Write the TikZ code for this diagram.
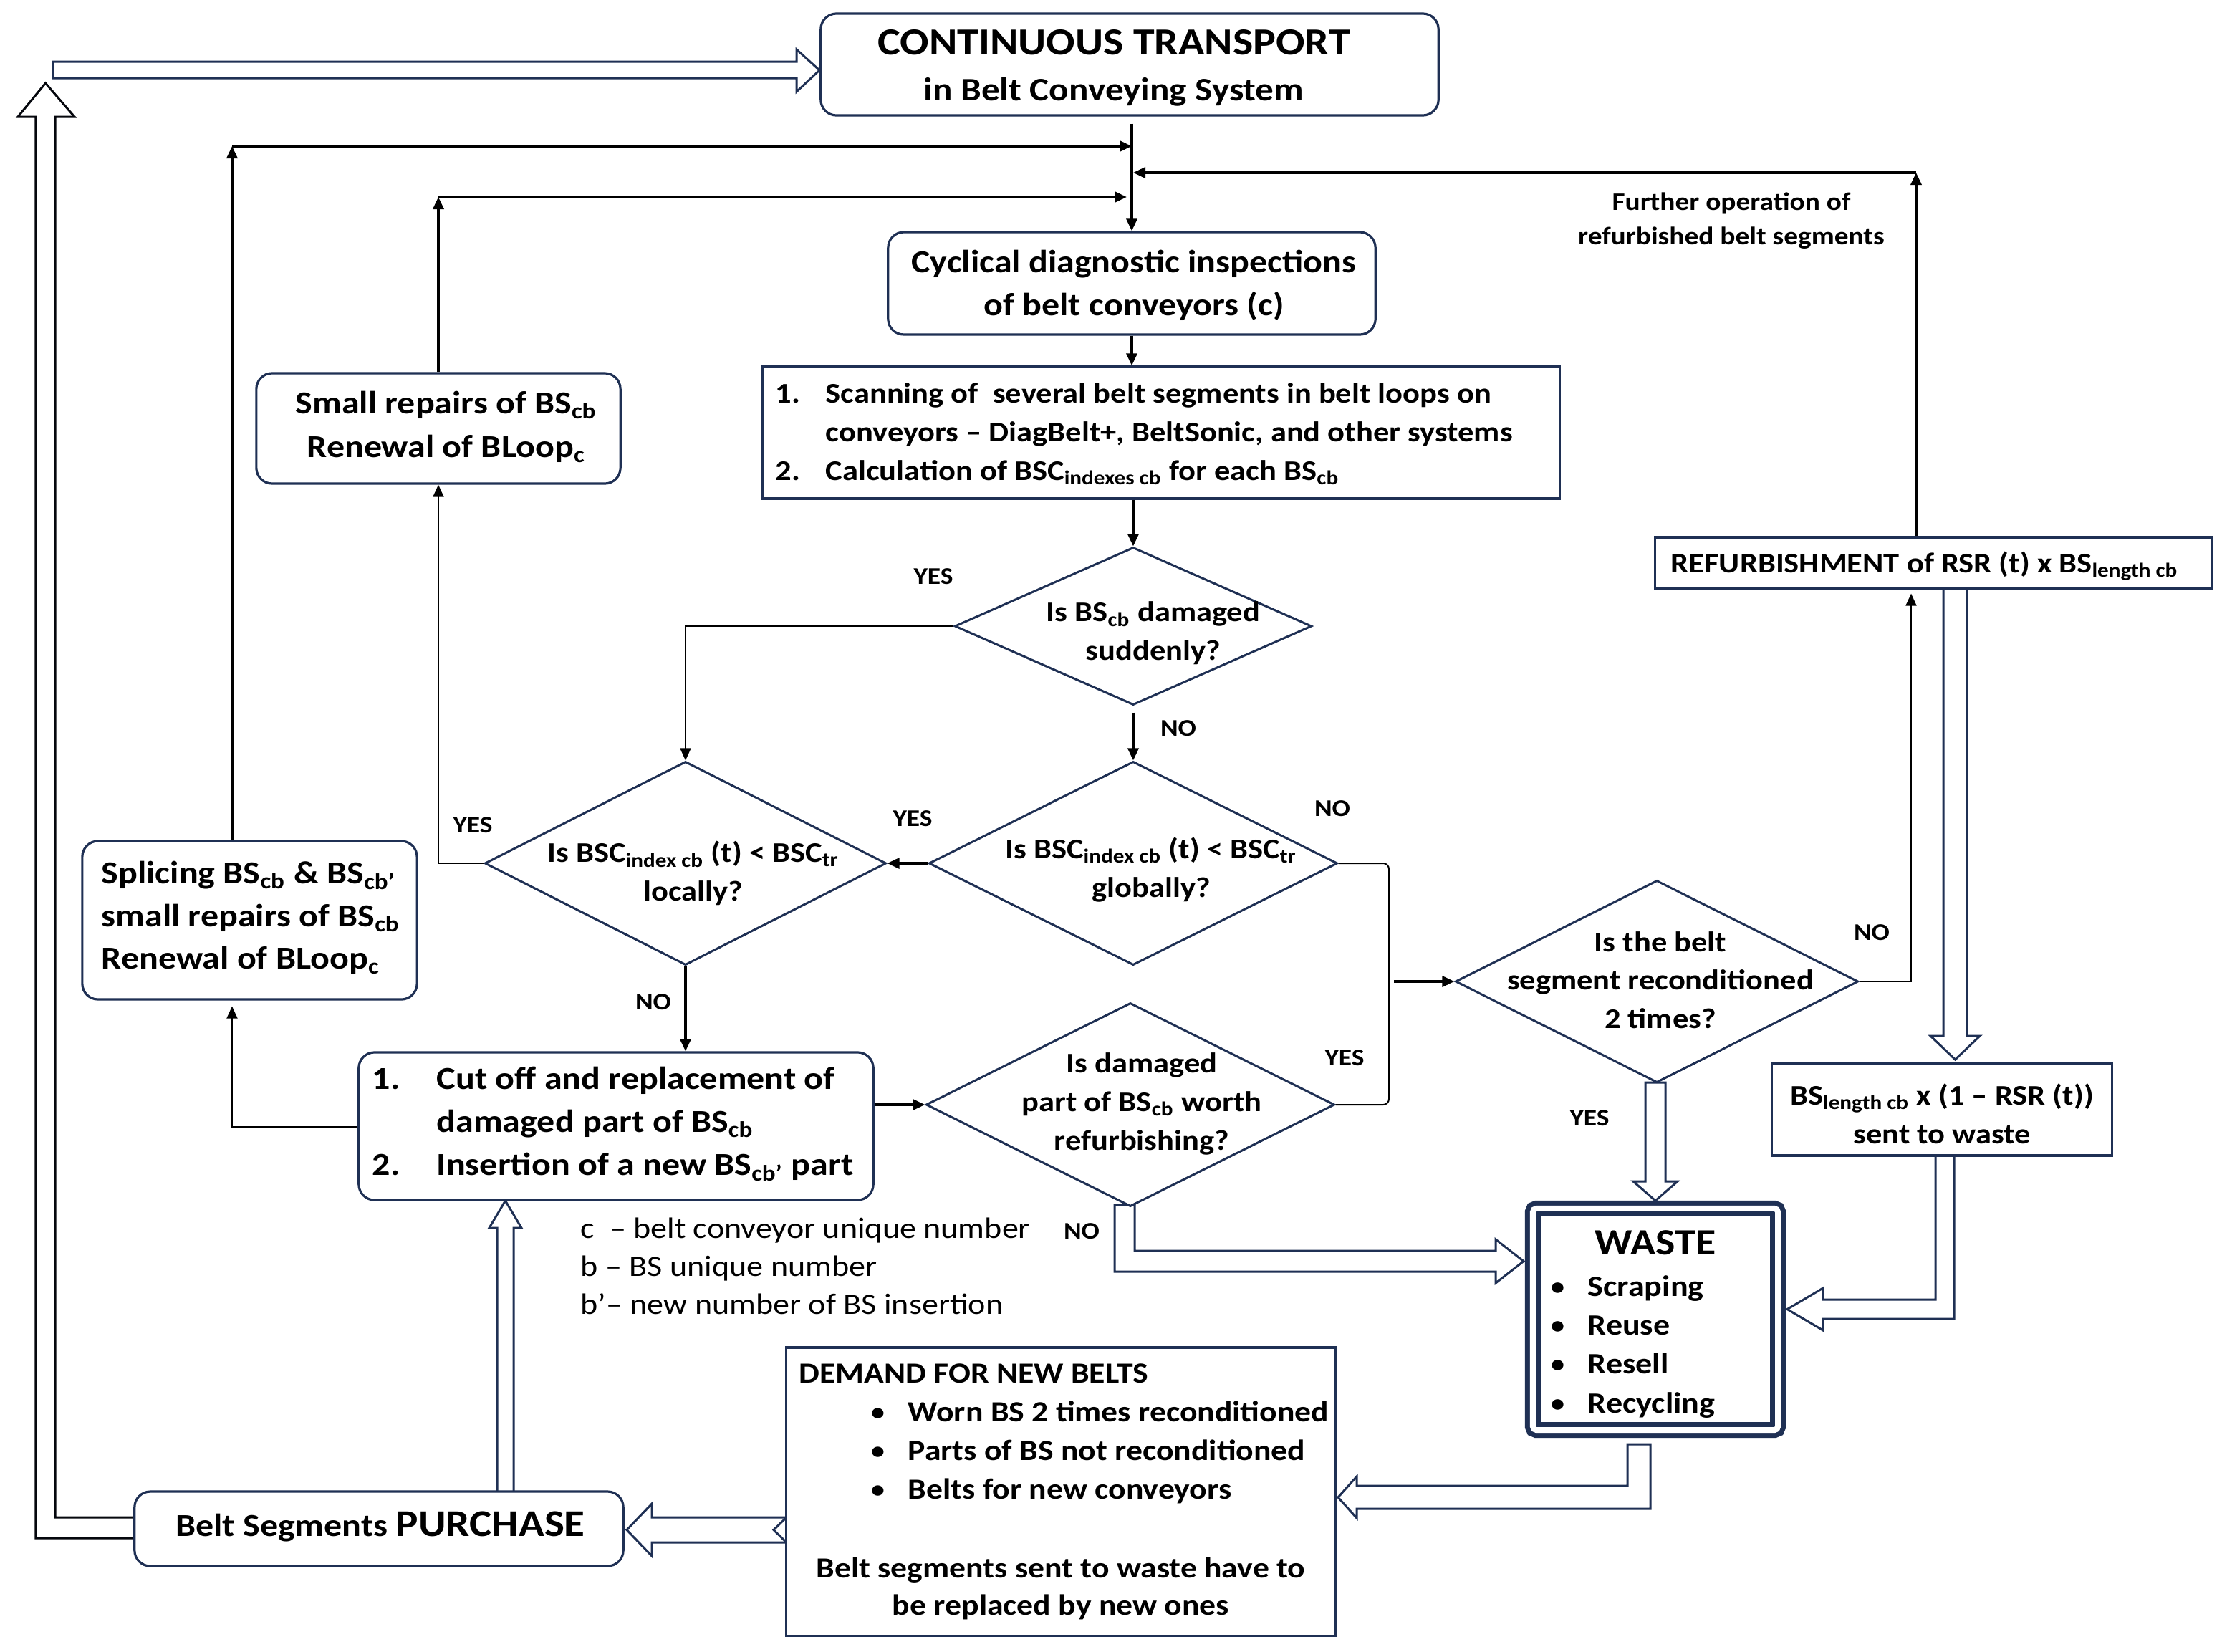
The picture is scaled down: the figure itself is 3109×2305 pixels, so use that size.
\documentclass[tikz,border=0pt]{standalone}
\usepackage{fontspec}
\setmainfont{Carlito}[FakeStretch=1.12]
\usetikzlibrary{arrows.meta,shapes.geometric,calc}
\definecolor{navy}{RGB}{31,48,84}
\newcommand\ssb[1]{\textsubscript{#1}}
\newcommand\mainf{\bfseries\fontsize{12.7}{15.4}\selectfont}
\newcommand\smf{\bfseries\fontsize{11.3}{15.3}\selectfont}
\newcommand\demf{\bfseries\fontsize{11.6}{15.4}\selectfont}
\newcommand\lblf{\bfseries\fontsize{9.5}{12}\selectfont}
\newcommand\blt{\makebox[0.53cm][l]{\mdseries•}}
\begin{document}
\begin{tikzpicture}[x=0.01cm,y=-0.01cm,
  bx/.style={draw=navy, line width=0.032cm, fill=white, inner sep=0pt},
  rbx/.style={bx, rounded corners=0.22cm},
  dia/.style={draw=navy, line width=0.03cm, diamond, inner sep=0pt, fill=white},
  tx/.style={inner sep=0pt, align=center, font=\mainf},
  stx/.style={inner sep=0pt, align=center, font=\smf},
  lbl/.style={inner sep=0pt, font=\lblf},
  ar/.style={line width=0.035cm, -{Triangle[length=0.17cm,width=0.15cm]}},
  tl/.style={line width=0.02cm},
  tar/.style={tl, -{Triangle[length=0.17cm,width=0.15cm]}},
  hol/.style={draw=navy, line width=0.03cm, fill=white}]
\useasboundingbox (0,0) rectangle (3109,2305);
\fill[white] (0,0) rectangle (3109,2305);

% hollow arrows
\draw[hol, draw=black!85!navy] (188,2118) -- (77,2118) -- (77,163) -- (104,163) -- (63.5,116) -- (25,163) -- (50,163) -- (50,2147) -- (188,2147);
\draw[hol] (74,86) -- (1112,86) -- (1112,69) -- (1144,98) -- (1112,128) -- (1112,109) -- (74,109) -- cycle;
\draw[hol] (694,2082) -- (694,1714) -- (683,1714) -- (705.5,1676) -- (728,1714) -- (717,1714) -- (717,2082);
\draw[hol] (1556,1682) -- (1584,1682) -- (1584,1746) -- (2088,1746) -- (2088,1730) -- (2127,1760.5) -- (2088,1791) -- (2088,1775) -- (1556,1775) -- cycle;
\draw[hol] (2297,1511) -- (2325,1511) -- (2325,1649) -- (2342,1649) -- (2311,1676) -- (2280,1649) -- (2297,1649) -- cycle;
\draw[hol] (2713,822) -- (2713,1446) -- (2695,1446) -- (2729.5,1479) -- (2764,1446) -- (2746,1446) -- (2746,822);
\draw[hol] (2702,1613) -- (2702,1814) -- (2545,1814) -- (2545,1798) -- (2495,1827.5) -- (2545,1857) -- (2545,1841) -- (2728,1841) -- (2728,1613);
\draw[hol] (2272,2016) -- (2304,2016) -- (2304,2106) -- (1894,2106) -- (1894,2119) -- (1868,2090) -- (1894,2061) -- (1894,2074) -- (2272,2074) -- cycle;
\draw[hol] (1098,2118) -- (910,2118) -- (910,2099) -- (875,2135.5) -- (910,2172) -- (910,2153) -- (1098,2153) -- (1080,2135.5) -- cycle;

% boxes
\node[rbx, minimum width=8.62cm, minimum height=1.42cm] (ct) at (1577,90) {};
\node[tx, font=\bfseries\fontsize{13}{18.2}\selectfont] (ctt) at (1555,95) {{\fontsize{15.2}{18.2}\selectfont CONTINUOUS TRANSPORT}\\in Belt Conveying System};
\node[rbx, minimum width=6.8cm, minimum height=1.43cm] (cyc) at (1580,395.5) {};
\node[tx, font=\bfseries\fontsize{12.7}{17}\selectfont] (cyct) at (1583,398) {Cyclical diagnostic inspections\\of belt conveyors (c)};
\node[bx, minimum width=11.12cm, minimum height=1.84cm] (scan) at (1621,604) {};
\node[stx, align=left, anchor=west] (scant) at (1082,606) {\makebox[0.7cm][l]{1.}Scanning of\ \ several belt segments in belt loops on\\\hspace*{0.7cm}conveyors – DiagBelt+, BeltSonic, and other systems\\\makebox[0.7cm][l]{2.}Calculation of BSC\ssb{indexes cb} for each BS\ssb{cb}};

\node[dia, minimum width=4.98cm, minimum height=2.2cm] (d1) at (1582,874) {};
\node[stx] (d1t) at (1610,884) {Is BS\ssb{cb} damaged\\suddenly?};
\node[dia, minimum width=5.6cm, minimum height=2.84cm] (dloc) at (957,1205) {};
\node[stx] (dloct) at (968,1219) {Is BSC\ssb{index cb} (t) < BSC\ssb{tr}\\locally?};
\node[dia, minimum width=5.7cm, minimum height=2.84cm] (dglob) at (1582,1205) {};
\node[stx] (dglobt) at (1607,1214) {Is BSC\ssb{index cb} (t) < BSC\ssb{tr}\\globally?};
\node[dia, minimum width=5.7cm, minimum height=2.84cm] (dworth) at (1578,1542) {};
\node[stx] (dwortht) at (1594,1541) {Is damaged\\part of BS\ssb{cb} worth\\refurbishing?};
\node[dia, minimum width=5.62cm, minimum height=2.82cm] (drec) at (2313,1370) {};
\node[stx] (drect) at (2318,1368) {Is the belt\\segment reconditioned\\2 times?};

\node[rbx, minimum width=5.08cm, minimum height=1.54cm] (small) at (612,598) {};
\node[tx, font=\bfseries\fontsize{12.7}{17.5}\selectfont] (smallt) at (623,596) {Small repairs of BS\ssb{cb}\\Renewal of BLoop\ssb{c}};
\node[rbx, minimum width=4.67cm, minimum height=2.21cm] (splice) at (348.5,1284.5) {};
\node[tx, align=left, anchor=west, font=\bfseries\fontsize{12.7}{17}\selectfont] (splicet) at (141,1281) {Splicing BS\ssb{cb} \& BS\ssb{cb’}\\small repairs of BS\ssb{cb}\\Renewal of BLoop\ssb{c}};
\node[rbx, minimum width=7.18cm, minimum height=2.06cm] (cut) at (860,1572) {};
\node[tx, align=left, anchor=west, font=\bfseries\fontsize{12.7}{17}\selectfont] (cutt) at (519,1569) {\makebox[0.9cm][l]{1.}Cut off and replacement of\\\hspace*{0.9cm}damaged part of BS\ssb{cb}\\\makebox[0.9cm][l]{2.}Insertion of a new BS\ssb{cb’} part};
\node[rbx, minimum width=6.82cm, minimum height=1.04cm] (purch) at (529,2134) {};
\node[tx, font=\bfseries\fontsize{12.7}{15}\selectfont] (purcht) at (531,2131) {Belt Segments {\fontsize{15}{18}\selectfont PURCHASE}};

\node[bx, minimum width=7.77cm, minimum height=0.72cm] (refurb) at (2699.5,786) {};
\node[stx, anchor=west] (refurbt) at (2332,790) {REFURBISHMENT of RSR (t) x BS\ssb{length cb}};
\node[bx, minimum width=4.74cm, minimum height=1.29cm] (bslen) at (2711,1548.5) {};
\node[stx] (bslent) at (2711,1555) {BS\ssb{length cb} x (1 – RSR (t))\\sent to waste};

\node[draw=navy, line width=0.07cm, double=white, double distance=0.08cm, rounded corners=0.05cm, fill=white, inner sep=0pt, minimum width=3.42cm, minimum height=3.09cm] (waste) at (2311,1841.5) {};
\node[tx, anchor=base, font=\bfseries\fontsize{14.7}{18}\selectfont] (wastet) at (2311,1751) {WASTE};
\node[tx, anchor=base west, font=\bfseries\fontsize{11.7}{15}\selectfont] (w1) at (2163,1809) {\blt Scraping};
\node[tx, anchor=base west, font=\bfseries\fontsize{11.7}{15}\selectfont] (w2) at (2163,1863) {\blt Reuse};
\node[tx, anchor=base west, font=\bfseries\fontsize{11.7}{15}\selectfont] (w3) at (2163,1917) {\blt Resell};
\node[tx, anchor=base west, font=\bfseries\fontsize{11.7}{15}\selectfont] (w4) at (2163,1972) {\blt Recycling};

\node[bx, minimum width=7.66cm, minimum height=4.02cm] (demand) at (1481,2082) {};
\node[tx, anchor=base west, font=\demf] (dm0) at (1115,1930) {DEMAND FOR NEW BELTS};
\node[tx, anchor=base west, font=\demf] (dm1) at (1214,1984) {\blt Worn BS 2 times reconditioned};
\node[tx, anchor=base west, font=\demf] (dm2) at (1214,2038) {\blt Parts of BS not reconditioned};
\node[tx, anchor=base west, font=\demf] (dm3) at (1214,2092) {\blt Belts for new conveyors};
\node[tx, anchor=base, font=\demf] (dm4) at (1481,2202) {Belt segments sent to waste have to};
\node[tx, anchor=base, font=\demf] (dm5) at (1481,2254) {be replaced by new ones};

\node[tx, anchor=west, align=left, font=\fontsize{11.7}{15.1}\selectfont] (leg) at (810,1767) {c\ \ – belt conveyor unique number\\b – BS unique number\\b’– new number of BS insertion};
\node[tx, font=\bfseries\fontsize{10}{13.7}\selectfont] (furt) at (2417,308) {Further operation of\\refurbished belt segments};

% coordinates
\coordinate (a1) at (324,204);
\coordinate (a2) at (612,275);
\coordinate (a3) at (2675,241);
\coordinate (a4) at (324,1573);
\coordinate (a5) at (2668,1370);
\coordinate (b1) at (1939,1205);
\coordinate (b2) at (1939,1542);
\coordinate (b3) at (1946,1370);

% connectors
\draw[ar] ($(ct.south -| cyc.north)+(0,10)$) -- (cyc.north);
\draw[ar] (splice.north -| a1) -- (a1);
\draw[ar] (a1) -- (a1 -| cyc.north);
\draw[ar] (small.north) -- (a2);
\draw[ar] (a2) -- ($(a2 -| cyc.north)+(-7,0)$);
\draw[ar] (refurb.north -| a3) -- (a3);
\draw[ar] (a3) -- ($(a3 -| cyc.north)+(2,0)$);
\draw[ar] (cyc.south) -- (cyc.south |- scan.north);
\draw[ar] (scan.south -| d1.north) -- (d1.north);
\draw[tar] (d1.west) -| (dloc.north);
\draw[ar, shorten <=0.09cm] (d1.south) -- (dglob.north);
\draw[ar] (dglob.west) -- (dloc.east);
\draw[tar] (dloc.west) -| (small.south);
\draw[ar] (dloc.south) -- (dloc.south |- cut.north);
\draw[tar, shorten >=0.08cm] (cut.west |- a4) -- (a4) -- (a4 |- splice.south);
\draw[ar] (cut.east |- dworth.west) -- (dworth.west);
\draw[tl, rounded corners=0.08cm] (dglob.east) -- (b1) -- (b2) -- (dworth.east);
\draw[ar] (b3) -- (drec.west);
\draw[tar, shorten >=0.05cm] (drec.east) -- (a5) -- (a5 |- refurb.south);

% labels
\node[lbl] (l1) at (1303,805) {YES};
\node[lbl] (l2) at (1645,1017) {NO};
\node[lbl] (l3) at (1274,1143) {YES};
\node[lbl] (l4) at (1860,1129) {NO};
\node[lbl] (l5) at (660,1152) {YES};
\node[lbl] (l6) at (912,1399) {NO};
\node[lbl] (l7) at (1877,1477) {YES};
\node[lbl] (l8) at (1510,1719) {NO};
\node[lbl] (l9) at (2219,1561) {YES};
\node[lbl] (l10) at (2613,1302) {NO};
\end{tikzpicture}
\end{document}
